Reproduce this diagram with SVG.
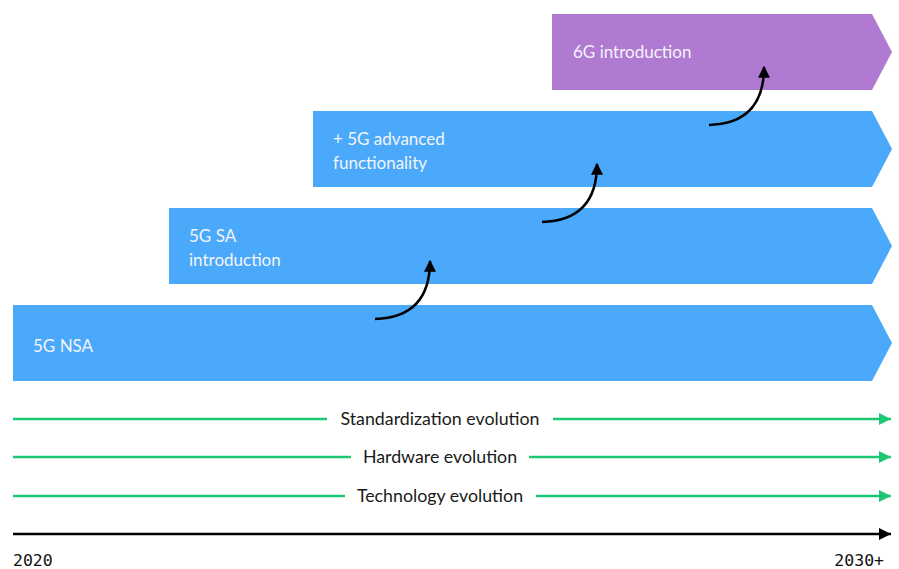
<svg xmlns="http://www.w3.org/2000/svg" width="899" height="569" viewBox="0 0 899 569">
<style>
.box{fill:#4aa9fa}
.purple{fill:#b07ad2}
.bt{font-family:Lato,"Noto Sans",sans-serif;font-size:17px;fill:#f4f4fb}
.lbl{font-family:Lato,"Noto Sans",sans-serif;font-size:17.8px;fill:#1a1a1a;text-anchor:middle}
.yr{font-family:"DejaVu Sans Mono","Liberation Mono",monospace;font-size:16.5px;fill:#111}
.g{stroke:#1ec773;stroke-width:2.5;fill:none}
.k{stroke:#000;stroke-width:2.5;fill:none}
.curve{stroke:#000;stroke-width:2.5;fill:none;marker-end:url(#ah)}
</style>
<defs>
<marker id="ah" viewBox="0 0 10 10" refX="9" refY="5" markerWidth="12" markerHeight="12" markerUnits="userSpaceOnUse" orient="auto">
<path d="M0,0 L10,5 L0,10 z" fill="#000"/>
</marker>
<marker id="ga" viewBox="0 0 10 10" refX="10" refY="5" markerWidth="14" markerHeight="12" markerUnits="userSpaceOnUse" orient="auto">
<path d="M0,0 L10,5 L0,10 z" fill="#1ec773"/>
</marker>
<marker id="ka" viewBox="0 0 10 10" refX="10" refY="5" markerWidth="14" markerHeight="12" markerUnits="userSpaceOnUse" orient="auto">
<path d="M0,0 L10,5 L0,10 z" fill="#000"/>
</marker>
</defs>
<g id="n6g"><polygon class="purple" points="552,14 872,14 892,52 872,90 552,90"/><text class="bt" x="573" y="58">6G introduction</text></g>
<g id="n5gadv"><polygon class="box" points="313,111 872,111 892,149 872,187 313,187"/><text class="bt" x="333" y="145">+ 5G advanced</text><text class="bt" x="333" y="169">functionality</text></g>
<g id="n5gsa"><polygon class="box" points="169,208 872,208 892,246 872,284 169,284"/><text class="bt" x="189" y="242">5G SA</text><text class="bt" x="189" y="266">introduction</text></g>
<g id="n5gnsa"><polygon class="box" points="13,305 872,305 892,343 872,381 13,381"/><text class="bt" x="33" y="352">5G NSA</text></g>
<g id="connectors">
<path class="curve" d="M375,319 C408,318 430,302 430,261"/>
<path class="curve" d="M542,222 C575,221 597,205 597,164"/>
<path class="curve" d="M709,125 C742,124 764,108 764,67"/>
</g>
<g id="timelines">
<line class="g" x1="13" y1="419" x2="327" y2="419"/>
<line class="g" x1="553" y1="419" x2="891" y2="419" marker-end="url(#ga)"/>
<text class="lbl" x="440" y="425">Standardization evolution</text>
<line class="g" x1="13" y1="457" x2="351" y2="457"/>
<line class="g" x1="529" y1="457" x2="891" y2="457" marker-end="url(#ga)"/>
<text class="lbl" x="440" y="463">Hardware evolution</text>
<line class="g" x1="13" y1="496" x2="345" y2="496"/>
<line class="g" x1="536" y1="496" x2="891" y2="496" marker-end="url(#ga)"/>
<text class="lbl" x="440" y="502">Technology evolution</text>
<line class="k" x1="13" y1="534" x2="891" y2="534" marker-end="url(#ka)"/>
<text class="yr" x="13" y="566">2020</text>
<text class="yr" x="884" y="566" text-anchor="end">2030+</text>
</g>
</svg>
